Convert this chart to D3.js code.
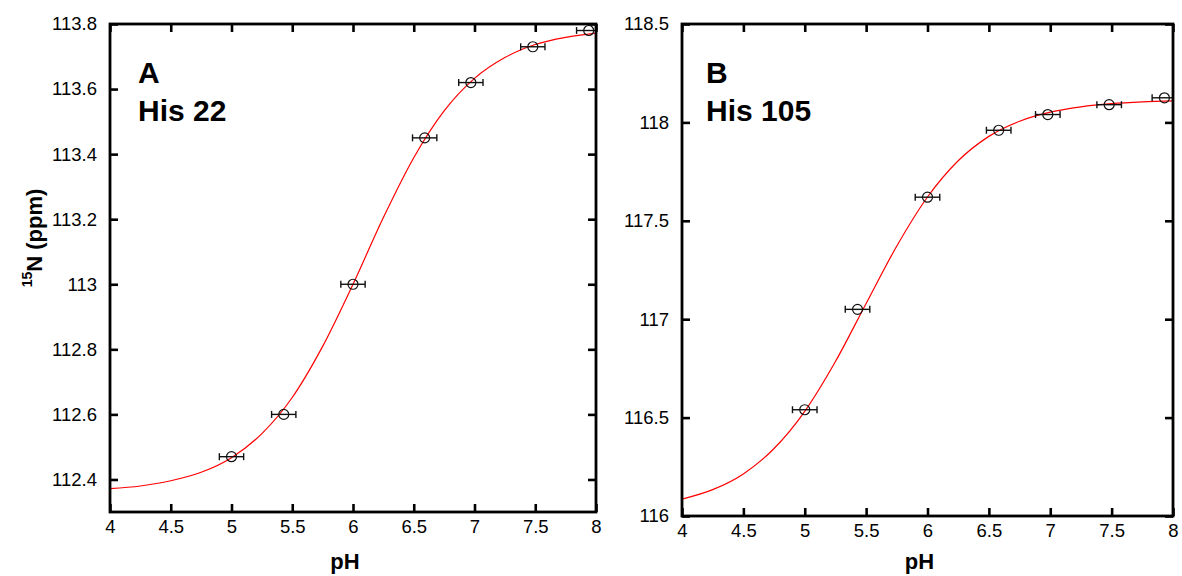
<!DOCTYPE html>
<html>
<head>
<meta charset="utf-8">
<script src="https://cdn.jsdelivr.net/npm/d3@7"></script>
<style>
  body { margin: 0; background: #fff; }
  text { font-family: "Liberation Sans", Arial, Helvetica, sans-serif; }
</style>
</head>
<body>
<script>
// x axis (shared)
var phTicks = [4, 4.5, 5, 5.5, 6, 6.5, 7, 7.5, 8];

// panel A - His 22
var phA = [5.0, 5.43, 6.0, 6.59, 6.97, 7.48, 7.94];
var shiftA = [112.47, 112.60, 113.00, 113.45, 113.62, 113.73, 113.78];
var errA = [0.1, 0.1, 0.1, 0.1, 0.1, 0.1, 0.1];
var curvePhA = [4, 4.25, 4.5, 4.75, 5, 5.25, 5.5, 5.75, 6, 6.25, 6.5, 6.75, 7, 7.25, 7.5, 7.75, 8];
var curveA = [112.372, 112.380, 112.396, 112.422, 112.467, 112.541, 112.652, 112.809, 113.0,
              113.205, 113.389, 113.533, 113.633, 113.697, 113.737, 113.759, 113.772];
var yTicksA = [112.4, 112.6, 112.8, 113, 113.2, 113.4, 113.6, 113.8];

// panel B - His 105
var phB = [5.0, 5.43, 6.0, 6.58, 6.98, 7.48, 7.93];
var shiftB = [116.54, 117.05, 117.62, 117.96, 118.04, 118.09, 118.125];
var errB = [0.1, 0.1, 0.1, 0.1, 0.1, 0.1, 0.1];
var curvePhB = [4, 4.25, 4.5, 4.75, 5, 5.25, 5.5, 5.75, 6, 6.25, 6.5, 6.75, 7, 7.25, 7.5, 7.75, 8];
var curveB = [116.086, 116.134, 116.214, 116.343, 116.532, 116.785, 117.080, 117.372, 117.621,
              117.805, 117.929, 118.006, 118.052, 118.079, 118.095, 118.104, 118.109];
var yTicksB = [116, 116.5, 117, 117.5, 118, 118.5];

var svg = d3.select("body").append("svg")
    .attr("width", 1182)
    .attr("height", 576);

svg.append("rect").attr("width", 1182).attr("height", 576).attr("fill", "#fff");

function drawPanel(p) {
  var w = p.right - p.left,
      h = p.bottom - p.top;

  var x = d3.scaleLinear().domain([4, 8]).range([0, w]);
  var y = d3.scaleLinear().domain(p.yDomain).range([h, 0]);

  var g = svg.append("g")
      .attr("transform", "translate(" + p.left + "," + p.top + ")");

  g.append("clipPath").attr("id", "clip" + p.id)
    .append("rect").attr("width", w).attr("height", h);

  // axes, ticks pointing inside on all four sides
  var fmt = function(d) { return String(d); };
  g.append("g").attr("class", "ax")
      .attr("transform", "translate(0," + h + ")")
      .call(d3.axisBottom(x).tickValues(phTicks).tickFormat(fmt)
        .tickSizeInner(-8).tickSizeOuter(0).tickPadding(8));
  g.append("g").attr("class", "ax")
      .call(d3.axisTop(x).tickValues(phTicks).tickFormat("")
        .tickSizeInner(-8).tickSizeOuter(0));
  g.append("g").attr("class", "ax")
      .call(d3.axisLeft(y).tickValues(p.yTicks).tickFormat(fmt)
        .tickSizeInner(-8).tickSizeOuter(0).tickPadding(13));
  g.append("g").attr("class", "ax")
      .attr("transform", "translate(" + w + ",0)")
      .call(d3.axisRight(y).tickValues(p.yTicks).tickFormat("")
        .tickSizeInner(-8).tickSizeOuter(0));

  g.selectAll(".ax .domain").remove();
  g.selectAll(".ax line").attr("stroke", "#000").attr("stroke-width", 2.6);
  g.selectAll(".ax text")
      .attr("fill", "#000")
      .style("font-size", "18.5px");

  // fitted curve
  var line = d3.line()
      .x(function(d) { return x(d[0]); })
      .y(function(d) { return y(d[1]); })
      .curve(d3.curveMonotoneX);

  g.append("path")
      .datum(d3.zip(p.curvePh, p.curve))
      .attr("clip-path", "url(#clip" + p.id + ")")
      .attr("fill", "none")
      .attr("stroke", "#f00")
      .attr("stroke-width", 1.2)
      .attr("d", line);

  // data points with horizontal error bars
  var pts = d3.zip(p.ph, p.shift, p.err);
  var eb = g.append("g")
      .attr("clip-path", "url(#clip" + p.id + ")")
      .selectAll("g").data(pts).enter().append("g");

  eb.append("line")
      .attr("x1", function(d) { return x(d[0] - d[2]); })
      .attr("x2", function(d) { return x(d[0] + d[2]); })
      .attr("y1", function(d) { return y(d[1]); })
      .attr("y2", function(d) { return y(d[1]); });
  eb.append("line")
      .attr("x1", function(d) { return x(d[0] - d[2]); })
      .attr("x2", function(d) { return x(d[0] - d[2]); })
      .attr("y1", function(d) { return y(d[1]) - 3.5; })
      .attr("y2", function(d) { return y(d[1]) + 3.5; });
  eb.append("line")
      .attr("x1", function(d) { return x(d[0] + d[2]); })
      .attr("x2", function(d) { return x(d[0] + d[2]); })
      .attr("y1", function(d) { return y(d[1]) - 3.5; })
      .attr("y2", function(d) { return y(d[1]) + 3.5; });
  eb.selectAll("line").attr("stroke", "#111").attr("stroke-width", 1.4);

  eb.append("circle")
      .attr("cx", function(d) { return x(d[0]); })
      .attr("cy", function(d) { return y(d[1]); })
      .attr("r", 5)
      .attr("fill", "none")
      .attr("stroke", "#111")
      .attr("stroke-width", 1.2);

  // frame
  g.append("rect")
      .attr("width", w).attr("height", h)
      .attr("fill", "none")
      .attr("stroke", "#000")
      .attr("stroke-width", 2.8);

  // panel label
  g.append("text").attr("x", p.labelX).attr("y", 59)
      .style("font-size", "30px").style("font-weight", "bold")
      .text(p.letter);
  g.append("text").attr("x", p.labelX).attr("y", 97)
      .style("font-size", "30px").style("font-weight", "bold")
      .text(p.name);

  // x label
  svg.append("text")
      .attr("x", p.left + w / 2 - 8)
      .attr("y", 569)
      .attr("text-anchor", "middle")
      .style("font-size", "22px").style("font-weight", "bold")
      .text("pH");
}

drawPanel({id: "A", left: 110, right: 596, top: 24, bottom: 512,
  yDomain: [112.3, 113.8], yTicks: yTicksA,
  ph: phA, shift: shiftA, err: errA, curvePh: curvePhA, curve: curveA,
  letter: "A", name: "His 22", labelX: 28});

drawPanel({id: "B", left: 682, right: 1173, top: 24, bottom: 516,
  yDomain: [116, 118.5], yTicks: yTicksB,
  ph: phB, shift: shiftB, err: errB, curvePh: curvePhB, curve: curveB,
  letter: "B", name: "His 105", labelX: 24});

// y axis title
var yt = svg.append("text")
    .attr("transform", "translate(38,238) rotate(-90)")
    .attr("text-anchor", "middle")
    .style("font-size", "22px").style("font-weight", "bold");
yt.append("tspan").attr("dy", "-0.45em").style("font-size", "14px").text("15");
yt.append("tspan").attr("dy", "0.45em").text("N (ppm)");
</script>
</body>
</html>
